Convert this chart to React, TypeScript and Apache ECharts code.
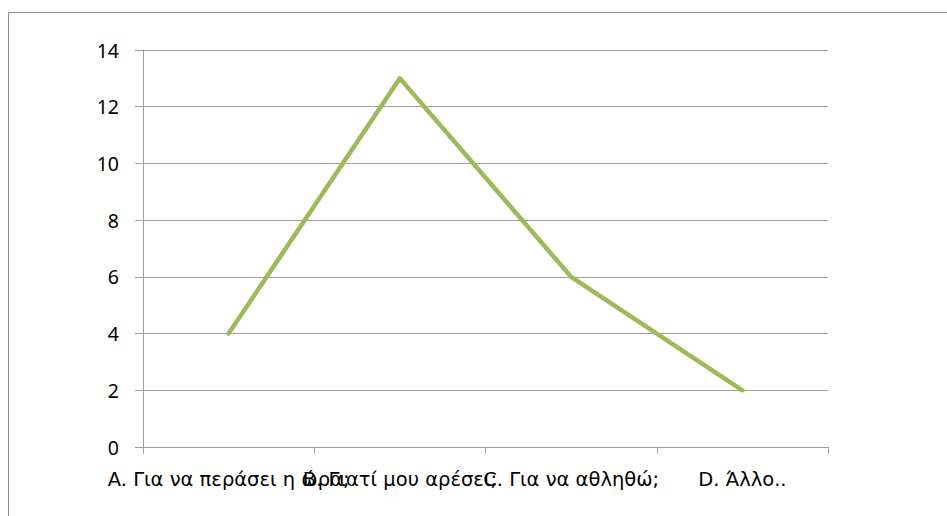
import React, { useEffect, useRef } from "react";
import * as echarts from "echarts";

const categories = ["A. Για να περάσει η ώρα;", "B. Γιατί μου αρέσει;", "C. Για να αθληθώ;", "D. Άλλο.."];
const values = [4, 13, 6, 2];
const yTicks = { min: 0, max: 14, interval: 2 };

export default function App() {
  const ref = useRef<HTMLDivElement>(null);
  useEffect(() => {
    const chart = echarts.init(ref.current!, null, { renderer: "svg" });
    chart.setOption({
      animation: false,
      backgroundColor: "#ffffff",
      graphic: [
        {
          type: "rect",
          shape: { x: 8.5, y: 12.5, width: 1200, height: 1200 },
          style: { fill: "none", stroke: "#8a8a8a", lineWidth: 1 },
          silent: true,
        },
      ],
      grid: { left: 143, right: 119, top: 50, bottom: 69, containLabel: false },
      xAxis: {
        type: "category",
        data: categories,
        boundaryGap: true,
        axisLine: { show: true, lineStyle: { color: "#9f9f9f", width: 1 } },
        axisTick: { show: true, length: 7, alignWithLabel: false, lineStyle: { color: "#9f9f9f" } },
        axisLabel: {
          interval: 0,
          color: "#000",
          fontFamily: "'DejaVu Sans', sans-serif",
          fontSize: 19.5,
          margin: 22,
          hideOverlap: false,
        },
        splitLine: { show: false },
      },
      yAxis: {
        type: "value",
        min: yTicks.min,
        max: yTicks.max,
        interval: yTicks.interval,
        axisLine: { show: true, lineStyle: { color: "#9f9f9f", width: 1 } },
        axisTick: { show: true, length: 8, lineStyle: { color: "#9f9f9f" } },
        axisLabel: { color: "#000", fontFamily: "'Noto Sans', sans-serif", fontSize: 19.5, margin: 24 },
        splitLine: { show: true, lineStyle: { color: "#9f9f9f", width: 1 } },
      },
      series: [
        {
          type: "line",
          data: values,
          showSymbol: false,
          symbol: "none",
          lineStyle: { color: "#9bbb59", width: 4.5, cap: "round", join: "round" },
        },
      ],
    });
    return () => chart.dispose();
  }, []);
  return <div ref={ref} style={{ position: "absolute", left: 0, top: 0, width: 947, height: 516 }} />;
}
